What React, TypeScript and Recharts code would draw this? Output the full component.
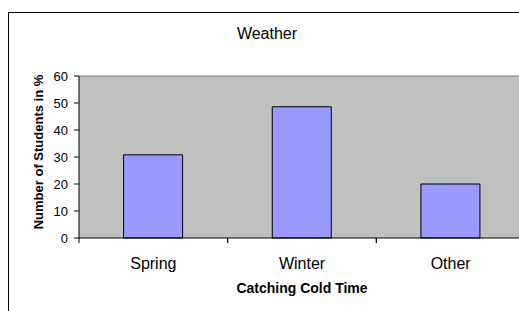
import React from "react";
import { BarChart, Bar, XAxis, YAxis, CartesianGrid, Label } from "recharts";

const categories = ["Spring", "Winter", "Other"];
const studentsPercent = [30.8, 48.6, 20];
const yTicks = [0, 10, 20, 30, 40, 50, 60];
const chartTitle = "Weather";
const xTitle = "Catching Cold Time";
const yTitle = "Number of Students in %";

const data = categories.map((c, i) => ({ season: c, value: studentsPercent[i] }));

const FONT = "'Liberation Sans', Arial, sans-serif";

const CategoryTick = (props: any) => {
  const { x, y, payload } = props;
  const off = payload && typeof payload.offset === "number" ? payload.offset : 74;
  return (
    <g>
      <line x1={x - off} y1={y} x2={x - off} y2={y + 5} stroke="#000" />
      <line x1={x + off} y1={y} x2={x + off} y2={y + 5} stroke="#000" />
      <text x={x} y={y + 31} textAnchor="middle" fontSize={16} fontFamily={FONT} fill="#000">
        {payload.value}
      </text>
    </g>
  );
};

export default function App() {
  return (
    <div
      style={{
        position: "absolute",
        left: 0,
        top: 0,
        width: 519,
        height: 311,
        overflow: "hidden",
        background: "#fff",
      }}
    >
      <div
        style={{
          position: "absolute",
          left: 8,
          top: 12,
          width: 600,
          height: 400,
          border: "1px solid #000",
          boxSizing: "border-box",
        }}
      />
      <svg
        width={519}
        height={60}
        style={{ position: "absolute", left: 0, top: 0 }}
      >
        <text x={267} y={39} textAnchor="middle" fontSize={16} fontFamily={FONT} fill="#000">
          {chartTitle}
        </text>
      </svg>
      <div style={{ position: "absolute", left: 0, top: 0 }}>
        <BarChart
          width={540}
          height={311}
          data={data}
          margin={{ top: 76, right: 15, bottom: 23, left: 0 }}
          barCategoryGap="30%"
        >
          <CartesianGrid
            fill="#c0c0c0"
            fillOpacity={1}
            vertical={false}
            horizontalValues={[60]}
            stroke="#808080"
          />
          <XAxis
            dataKey="season"
            height={50}
            axisLine={{ stroke: "#000" }}
            tickLine={false}
            tickSize={0}
            tickMargin={0}
            interval={0}
            tick={<CategoryTick />}
          >
            <Label
              content={(p: any) => {
                const vb = p.viewBox || { x: 79, y: 238, width: 446 };
                return (
                  <text
                    x={vb.x + vb.width / 2}
                    y={vb.y + 55}
                    textAnchor="middle"
                    fontSize={14}
                    fontWeight="bold"
                    fontFamily={FONT}
                    fill="#000"
                  >
                    {xTitle}
                  </text>
                );
              }}
            />
          </XAxis>
          <YAxis
            width={79}
            domain={[0, 60]}
            ticks={yTicks}
            interval={0}
            axisLine={{ stroke: "#000" }}
            tickLine={{ stroke: "#000" }}
            tickSize={5}
            tickMargin={6}
            tick={{ fontSize: 13, fontFamily: FONT, fill: "#000" }}
          >
            <Label
              content={(p: any) => {
                const vb = p.viewBox || { x: 0, y: 76, height: 162 };
                const cx = vb.x + 43;
                const cy = vb.y + vb.height / 2 - 5;
                return (
                  <text
                    x={cx}
                    y={cy}
                    transform={`rotate(-90 ${cx} ${cy})`}
                    textAnchor="middle"
                    fontSize={13}
                    fontWeight="bold"
                    fontFamily={FONT}
                    fill="#000"
                  >
                    {yTitle}
                  </text>
                );
              }}
            />
          </YAxis>
          <Bar
            dataKey="value"
            fill="#9999ff"
            stroke="#000"
            strokeWidth={1}
            isAnimationActive={false}
          />
        </BarChart>
      </div>
    </div>
  );
}
